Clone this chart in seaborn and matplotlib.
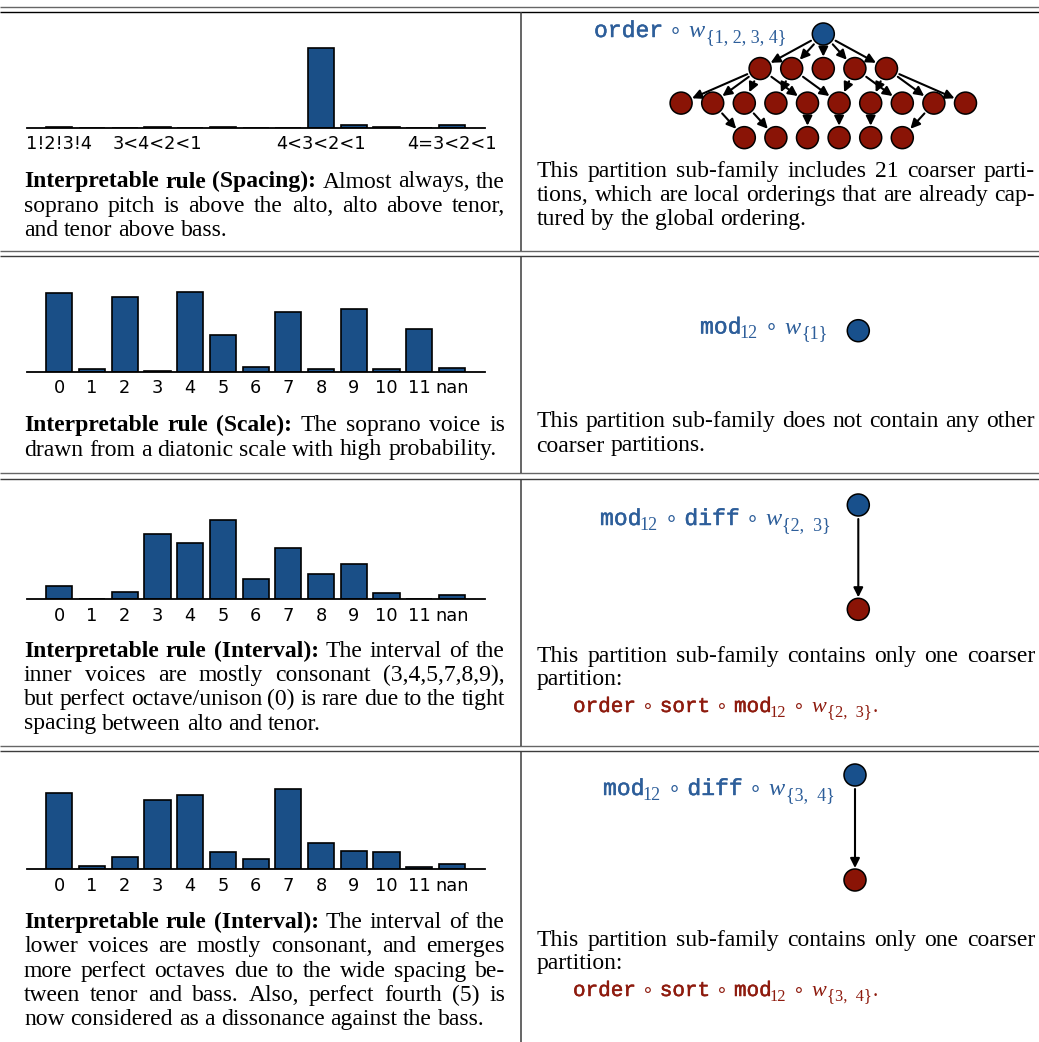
import numpy as np
import pandas as pd
import matplotlib
matplotlib.use("Agg")
import matplotlib.pyplot as plt
import matplotlib.patheffects as pe
import seaborn as sns
from matplotlib.patches import Circle, FancyArrowPatch

# ---------------------------------------------------------------- data
spacing_ticks = ["1!2!3!4", "", "", "3<4<2<1", "", "", "", "",
                 "4<3<2<1", "", "", "", "4=3<2<1"]
spacing_freq = [0.4, 0.0, 0.0, 0.4, 0.0, 0.3, 0.0, 0.0, 91.0, 2.9, 1.2, 0.0, 3.5]

pitch_class_ticks = ["0", "1", "2", "3", "4", "5", "6", "7", "8", "9", "10", "11", "nan"]
soprano_freq = [17.4, 0.5, 16.5, 0.2, 17.6, 8.1, 1.1, 13.3, 0.7, 13.8, 0.5, 9.5, 0.9]
inner_interval_freq = [3.6, 0.2, 1.9, 17.9, 15.5, 21.8, 5.5, 14.1, 6.9, 9.7, 1.7, 0.2, 1.1]
lower_interval_freq = [18.5, 0.8, 3.0, 16.8, 18.0, 4.2, 2.5, 19.5, 6.4, 4.4, 4.2, 0.6, 1.2]

# partition lattice below order o w_{1,2,3,4}: nodes per level and edges
lattice_levels = [1, 5, 10, 6]
lattice_edges = [
    ((0, 0), (1, 0)), ((0, 0), (1, 1)), ((0, 0), (1, 2)), ((0, 0), (1, 3)), ((0, 0), (1, 4)),
    ((1, 0), (2, 0)), ((1, 0), (2, 1)), ((1, 0), (2, 2)), ((1, 0), (2, 4)),
    ((1, 1), (2, 3)), ((1, 1), (2, 5)),
    ((1, 3), (2, 5)), ((1, 3), (2, 7)),
    ((1, 4), (2, 6)), ((1, 4), (2, 8)), ((1, 4), (2, 9)),
    ((2, 1), (3, 0)), ((2, 2), (3, 1)), ((2, 4), (3, 2)),
    ((2, 5), (3, 3)), ((2, 6), (3, 4)), ((2, 8), (3, 5)),
]

# ---------------------------------------------------------------- style
sns.set_style("white")
plt.rcParams["font.family"] = ["DejaVu Sans"]
plt.rcParams["text.color"] = "black"
plt.rcParams["xtick.color"] = "black"
plt.rcParams["xtick.labelcolor"] = "black"

BAR = "#1a4f87"
NODE_BLUE = "#18508c"
NODE_RED = "#8a1406"
TXT_BLUE = "#2d5e9a"
TXT_RED = "#8e1b0e"
RULE = "#3c3c3c"
SERIF = "Liberation Serif"
MONO = "Liberation Mono"
TEXT_SIZE = 17.0

W, H = 1039, 1042
fig = plt.figure(figsize=(W / 100, H / 100), dpi=100)
fig.patch.set_facecolor("white")

# overlay in pixel coordinates for the table, text and graphs
canvas = fig.add_axes([0, 0, 1, 1])
canvas.set_xlim(0, W)
canvas.set_ylim(H, 0)
canvas.axis("off")


def bar_panel(baseline, ticks, values):
    ax = fig.add_axes([26.6 / W, 1 - baseline / H, 458 / W, 86 / H])
    df = pd.DataFrame({"pos": np.arange(len(values)), "freq": values})
    sns.barplot(data=df, x="pos", y="freq", ax=ax, color=BAR, saturation=1,
                edgecolor="black", linewidth=1.2, width=0.8)
    ax.set_xlim(-1, len(values))
    ax.set_ylim(0, max(values) * 1.08)
    ax.set_xticks(np.arange(len(values)))
    ax.set_xticklabels(ticks, fontsize=12.8, color="black")
    ax.set_yticks([])
    ax.set_xlabel("")
    ax.set_ylabel("")
    for side in ("left", "right", "top"):
        ax.spines[side].set_visible(False)
    ax.spines["bottom"].set_linewidth(1.3)
    ax.spines["bottom"].set_color("black")
    ax.tick_params(axis="x", direction="in", length=3.8, width=0.9,
                   color="#222222", pad=5.5)
    ax.set_axisbelow(False)
    ax.patch.set_alpha(0)
    return ax


bar_panel(127.7, spacing_ticks, spacing_freq)
bar_panel(371.7, pitch_class_ticks, soprano_freq)
bar_panel(599.3, pitch_class_ticks, inner_interval_freq)
bar_panel(869.0, pitch_class_ticks, lower_interval_freq)

# ---------------------------------------------------------------- table rules
rule_pairs = [(6.5, 12.3), (250.5, 255.5), (473.0, 478.5), (745.5, 750.5)]
for ya, yb in rule_pairs:
    canvas.plot([0, W], [ya, ya], color="#666666", lw=1.0, solid_capstyle="butt")
    canvas.plot([0, W], [yb, yb], color=RULE if ya > 10 else "black", lw=1.0,
                solid_capstyle="butt")
col_x = 520.5
segments = [(12.3, 250.5), (255.5, 473.0), (478.5, 745.5), (750.5, H)]
for ya, yb in segments:
    canvas.plot([col_x, col_x], [ya, yb], color=RULE, lw=1.1, solid_capstyle="butt")

# ---------------------------------------------------------------- paragraphs
renderer = fig.canvas.get_renderer()


def width_of(t):
    return t.get_window_extent(renderer).width


def set_line(bold, normal, x0, x1, y, justify=True):
    words = [(w, True) for w in bold.split()] + [(w, False) for w in normal.split()]
    texts = [canvas.text(0, y, w, fontsize=TEXT_SIZE, family=SERIF, color="black",
                         fontweight="bold" if b else "normal",
                         va="baseline", ha="left") for w, b in words]
    widths = [width_of(t) for t in texts]
    probe_a = canvas.text(0, 0, "a a", fontsize=TEXT_SIZE, family=SERIF)
    probe_b = canvas.text(0, 0, "aa", fontsize=TEXT_SIZE, family=SERIF)
    space = width_of(probe_a) - width_of(probe_b)
    probe_a.remove()
    probe_b.remove()
    if justify and len(texts) > 1:
        gap = max((x1 - x0 - sum(widths)) / (len(texts) - 1), 0.55 * space)
    else:
        gap = space
    x = x0
    for t, w in zip(texts, widths):
        t.set_x(x)
        x += w + gap


def paragraph(lines, x0, x1, baselines):
    for i, ((bold, normal), y) in enumerate(zip(lines, baselines)):
        set_line(bold, normal, x0, x1, y, justify=(i < len(lines) - 1))


LX0, LX1 = 24.0, 505.0
RX0, RX1 = 536.5, 1035.0

paragraph([("Interpretable rule (Spacing):", "Almost always, the"),
           ("", "soprano pitch is above the alto, alto above tenor,"),
           ("", "and tenor above bass.")],
          LX0, LX1, [187.5, 211.8, 236.0])
paragraph([("Interpretable rule (Scale):", "The soprano voice is"),
           ("", "drawn from a diatonic scale with high probability.")],
          LX0, LX1, [431.0, 455.5])
paragraph([("Interpretable rule (Interval):", "The interval of the"),
           ("", "inner voices are mostly consonant (3,4,5,7,8,9),"),
           ("", "but perfect octave/unison (0) is rare due to the tight"),
           ("", "spacing between alto and tenor.")],
          LX0, LX1, [656.7, 681.0, 705.3, 729.5])
paragraph([("Interpretable rule (Interval):", "The interval of the"),
           ("", "lower voices are mostly consonant, and emerges"),
           ("", "more perfect octaves due to the wide spacing be-"),
           ("", "tween tenor and bass.  Also, perfect fourth (5) is"),
           ("", "now considered as a dissonance against the bass.")],
          LX0, LX1, [928.0, 952.3, 976.7, 1001.0, 1025.3])

paragraph([("", "This partition sub-family includes 21 coarser parti-"),
           ("", "tions, which are local orderings that are already cap-"),
           ("", "tured by the global ordering.")],
          RX0, RX1, [176.7, 200.8, 225.0])
paragraph([("", "This partition sub-family does not contain any other"),
           ("", "coarser partitions.")],
          RX0, RX1, [426.7, 451.5])
paragraph([("", "This partition sub-family contains only one coarser"),
           ("", "partition:")],
          RX0, RX1, [661.7, 685.5])
paragraph([("", "This partition sub-family contains only one coarser"),
           ("", "partition:")],
          RX0, RX1, [945.7, 969.5])


# ---------------------------------------------------------------- formulas
def formula(x, y, pieces, color, scale=1.0):
    """Lay out a composition like mod_12 o diff o w_{2,3} piece by piece."""
    heavy = [pe.withStroke(linewidth=0.35, foreground=color)]
    prev = None
    for kind, s in pieces:
        if kind == "tt":
            t = canvas.text(x, y, s, family=MONO, fontsize=16.6 * scale,
                            color=color, va="baseline", ha="left", path_effects=heavy)
            x += width_of(t)
        elif kind == "sub":
            if prev == "tt":
                x -= 2.0 * scale
            t = canvas.text(x, y + 5 * scale, s, family=SERIF, fontsize=13.0 * scale,
                            color=color, va="baseline", ha="left")
            x += width_of(t) + 1.0 * scale
        elif kind == "op":
            canvas.text(x + 12.5 * scale, y - 6.0 * scale, "\u2218", family="DejaVu Sans",
                        fontsize=15 * scale, color=color, va="center", ha="center")
            x += 26 * scale
        elif kind == "it":
            t = canvas.text(x, y, s, family=SERIF, style="italic", fontsize=17.5 * scale,
                            color=color, va="baseline", ha="left")
            x += width_of(t) + 1.0 * scale
        else:
            t = canvas.text(x, y, s, family=SERIF, fontsize=TEXT_SIZE * scale,
                            color=color, va="baseline", ha="left")
            x += width_of(t)
        prev = kind
    return x


formula(594, 37, [("tt", "order"), ("op", ""), ("it", "w"), ("sub", "{1, 2, 3, 4}")],
        TXT_BLUE)
formula(700, 333.5, [("tt", "mod"), ("sub", "12"), ("op", ""), ("it", "w"), ("sub", "{1}")],
        TXT_BLUE)
formula(600, 525, [("tt", "mod"), ("sub", "12"), ("op", ""), ("tt", "diff"), ("op", ""),
                   ("it", "w"), ("sub", "{2,  3}")], TXT_BLUE)
formula(603, 795, [("tt", "mod"), ("sub", "12"), ("op", ""), ("tt", "diff"), ("op", ""),
                   ("it", "w"), ("sub", "{3,  4}")], TXT_BLUE)

formula(573, 712, [("tt", "order"), ("op", ""), ("tt", "sort"), ("op", ""), ("tt", "mod"),
                   ("sub", "12"), ("op", ""), ("it", "w"), ("sub", "{2,  3}"), ("rm", ".")],
        TXT_RED, scale=0.91)
formula(573, 996, [("tt", "order"), ("op", ""), ("tt", "sort"), ("op", ""), ("tt", "mod"),
                   ("sub", "12"), ("op", ""), ("it", "w"), ("sub", "{3,  4}"), ("rm", ".")],
        TXT_RED, scale=0.91)

# ---------------------------------------------------------------- graphs
R = 11.0


def node(x, y, color):
    canvas.add_patch(Circle((x, y), R, facecolor=color, edgecolor="black",
                            lw=1.1, zorder=3))


def arrow(p, q):
    canvas.add_patch(FancyArrowPatch(p, q, arrowstyle="-|>", mutation_scale=14,
                                     lw=1.5, color="black",
                                     shrinkA=(R + 3) * 0.72, shrinkB=(R + 1) * 0.72,
                                     zorder=2))


cx, dx, y0, dy = 823.3, 31.6, 34.0, 34.55
pos = {}
for lvl, n in enumerate(lattice_levels):
    for i in range(n):
        pos[(lvl, i)] = (cx + (i - (n - 1) / 2) * dx, y0 + lvl * dy)
for a, b in lattice_edges:
    arrow(pos[a], pos[b])
for key, (x, y) in pos.items():
    node(x, y, NODE_BLUE if key[0] == 0 else NODE_RED)

node(858.3, 330.7, NODE_BLUE)

node(858.3, 505.0, NODE_BLUE)
node(858.3, 609.3, NODE_RED)
arrow((858.3, 505.0), (858.3, 609.3))

node(855.0, 775.0, NODE_BLUE)
node(855.0, 880.0, NODE_RED)
arrow((855.0, 775.0), (855.0, 880.0))

fig.savefig("out.png", dpi=100)
